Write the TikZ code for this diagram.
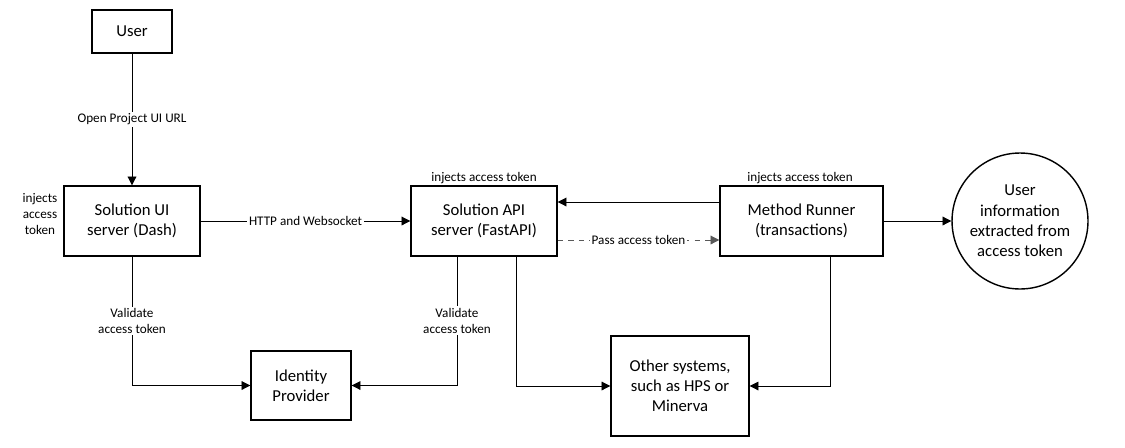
\documentclass[tikz,border=0pt]{standalone}
\usepackage{fontspec}
\setmainfont{Carlito}
\usetikzlibrary{arrows.meta}
\begin{document}
\begin{tikzpicture}[x=0.02cm,y=-0.02cm,
  box/.style={draw,thick,align=center,inner sep=0pt,font=\fontsize{9.5}{11.5}\selectfont},
  lbl/.style={font=\fontsize{7.5}{9}\selectfont,align=center,fill=white,inner sep=1pt},
  plain/.style={font=\fontsize{7.5}{9}\selectfont,align=center,inner sep=1pt},
  arr/.style={-{Triangle[length=5pt,width=5pt]},line width=0.5pt}]
\useasboundingbox (0,0) rectangle (1125,447);
\node[box,minimum width=80\pgflinewidth*0+1.6cm,minimum height=0.86cm] (user) at (132,31.5) {User};
\node[box,minimum width=2.72cm,minimum height=1.4cm] (ui) at (132,221) {Solution UI\\server (Dash)};
\node[box,minimum width=2.92cm,minimum height=1.4cm] (api) at (484,221) {Solution API\\server (FastAPI)};
\node[box,minimum width=3.26cm,minimum height=1.4cm] (mr) at (801.5,221) {Method Runner\\(transactions)};
\node[box,circle,minimum size=2.72cm] (ui2) at (1020,221) {User\\information\\extracted from\\access token};
\node[box,minimum width=2.0cm,minimum height=1.38cm] (idp) at (301,385.5) {Identity\\Provider};
\node[box,minimum width=2.76cm,minimum height=2.0cm] (oth) at (680,386) {Other systems,\\such as HPS or\\Minerva};
\draw[arr] (user) -- node[lbl]{Open Project UI URL} (ui);
\draw[arr] (ui) -- node[lbl]{HTTP and Websocket} (api);
\draw[arr,dashed,gray!70!black] (api.east|-0,240) -- node[lbl,text=black]{Pass access token} (mr.west|-0,240);
\draw[arr] (mr.west|-0,202) -- (api.east|-0,202);
\draw[arr] (mr) -- (ui2);
\draw[arr] (ui.south) -- node[lbl,pos=0.5]{Validate\\access token} (132,385.5) -- (idp.west);
\draw[arr] (457,256) -- node[lbl,pos=0.5]{Validate\\access token} (457,385.5) -- (idp.east);
\draw[arr] (516,256) -- (516,386) -- (oth.west);
\draw[arr] (830,256) -- (830,386) -- (oth.east);
\node[plain] (t1) at (484,178) {injects access token};
\node[plain] (t2) at (800,178) {injects access token};
\node[plain] (t3) at (40,214) {injects\\access\\token};
\end{tikzpicture}
\end{document}
